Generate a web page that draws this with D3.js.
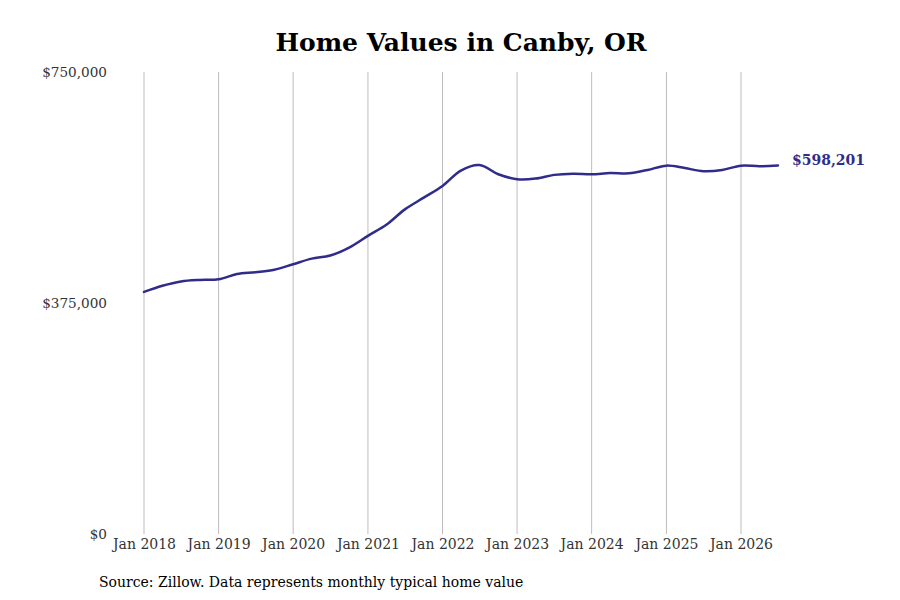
<!DOCTYPE html>
<html>
<head>
<meta charset="utf-8">
<script src="https://cdn.jsdelivr.net/npm/d3@7"></script>
<style>
  body { margin: 0; background: #fff; }
  text { font-family: "DejaVu Serif", serif; }
</style>
</head>
<body>
<svg id="chart" width="900" height="600"></svg>
<script>
'use strict';

// quarterly typical home value, Jan 2018 .. Jul 2026
const dates = [
  '2018-01', '2018-04', '2018-07', '2018-10',
  '2019-01', '2019-04', '2019-07', '2019-10',
  '2020-01', '2020-04', '2020-07', '2020-10',
  '2021-01', '2021-04', '2021-07', '2021-10',
  '2022-01', '2022-04', '2022-07', '2022-10',
  '2023-01', '2023-04', '2023-07', '2023-10',
  '2024-01', '2024-04', '2024-07', '2024-10',
  '2025-01', '2025-04', '2025-07', '2025-10',
  '2026-01', '2026-04', '2026-07'
];

const values = [
  393000, 403000, 410000, 412500,
  413500, 422000, 425000, 429000,
  438000, 447000, 452000, 465000,
  484000, 502000, 527000, 546000,
  565000, 590000, 599000, 584000,
  576000, 577000, 583000, 585000,
  584000, 586000, 585500, 591000,
  598000, 594000, 589000, 591000,
  598000, 597000, 598201
];

const yTicks = [0, 375000, 750000];
const xTicks = ['2018-01', '2019-01', '2020-01', '2021-01', '2022-01',
  '2023-01', '2024-01', '2025-01', '2026-01'];

const title = 'Home Values in Canby, OR';
const source = 'Source: Zillow. Data represents monthly typical home value';

const parse = d3.timeParse('%Y-%m');
const data = dates.map((d, i) => ({ date: parse(d), value: values[i] }));

const svg = d3.select('#chart');
const margin = { top: 72, right: 122, bottom: 66, left: 144 };
const height = 600;

const x = d3.scaleTime()
  .domain([parse('2018-01'), parse('2026-01')])
  .range([margin.left, 741]);

const y = d3.scaleLinear()
  .domain([0, 750000])
  .range([height - margin.bottom, margin.top]);

const money = d3.format('$,.0f');

// vertical grid lines
svg.append('g')
  .selectAll('line')
  .data(xTicks)
  .enter().append('line')
  .attr('x1', d => x(parse(d)))
  .attr('x2', d => x(parse(d)))
  .attr('y1', y(750000))
  .attr('y2', y(0))
  .attr('stroke', '#bdbdbd')
  .attr('stroke-width', 1);

// x axis labels
const xAxis = svg.append('g')
  .attr('transform', 'translate(0,' + y(0) + ')')
  .call(d3.axisBottom(x)
    .tickValues(xTicks.map(parse))
    .tickFormat(d3.timeFormat('Jan %Y'))
    .tickSize(0)
    .tickPadding(5));

xAxis.select('.domain').remove();
xAxis.selectAll('text')
  .attr('font-family', 'DejaVu Serif')
  .attr('font-size', 14)
  .attr('fill', '#333');

// y axis labels
const yAxis = svg.append('g')
  .attr('transform', 'translate(107,0)')
  .call(d3.axisLeft(y)
    .tickValues(yTicks)
    .tickFormat(money)
    .tickSize(0)
    .tickPadding(0));

yAxis.select('.domain').remove();
yAxis.selectAll('text')
  .attr('font-family', 'DejaVu Serif')
  .attr('font-size', 13.6)
  .attr('fill', '#333');

const line = d3.line()
  .x(d => x(d.date))
  .y(d => y(d.value))
  .curve(d3.curveCatmullRom.alpha(0.5));

svg.append('path')
  .datum(data)
  .attr('fill', 'none')
  .attr('stroke', '#2f2c8a')
  .attr('stroke-width', 2.5)
  .attr('stroke-linejoin', 'round')
  .attr('stroke-linecap', 'round')
  .attr('d', line);

const last = data[data.length - 1];

svg.append('text')
  .attr('x', x(last.date) + 14)
  .attr('y', y(last.value) - 5)
  .attr('dy', '0.35em')
  .attr('font-size', 14)
  .attr('font-weight', 'bold')
  .attr('fill', '#2f2c8a')
  .text(money(last.value));

svg.append('text')
  .attr('x', 461)
  .attr('y', 51)
  .attr('text-anchor', 'middle')
  .attr('font-size', 25)
  .attr('font-weight', 'bold')
  .attr('fill', '#000')
  .text(title);

svg.append('text')
  .attr('x', 99)
  .attr('y', 587)
  .attr('font-size', 14)
  .attr('fill', '#000')
  .text(source);
</script>
</body>
</html>
